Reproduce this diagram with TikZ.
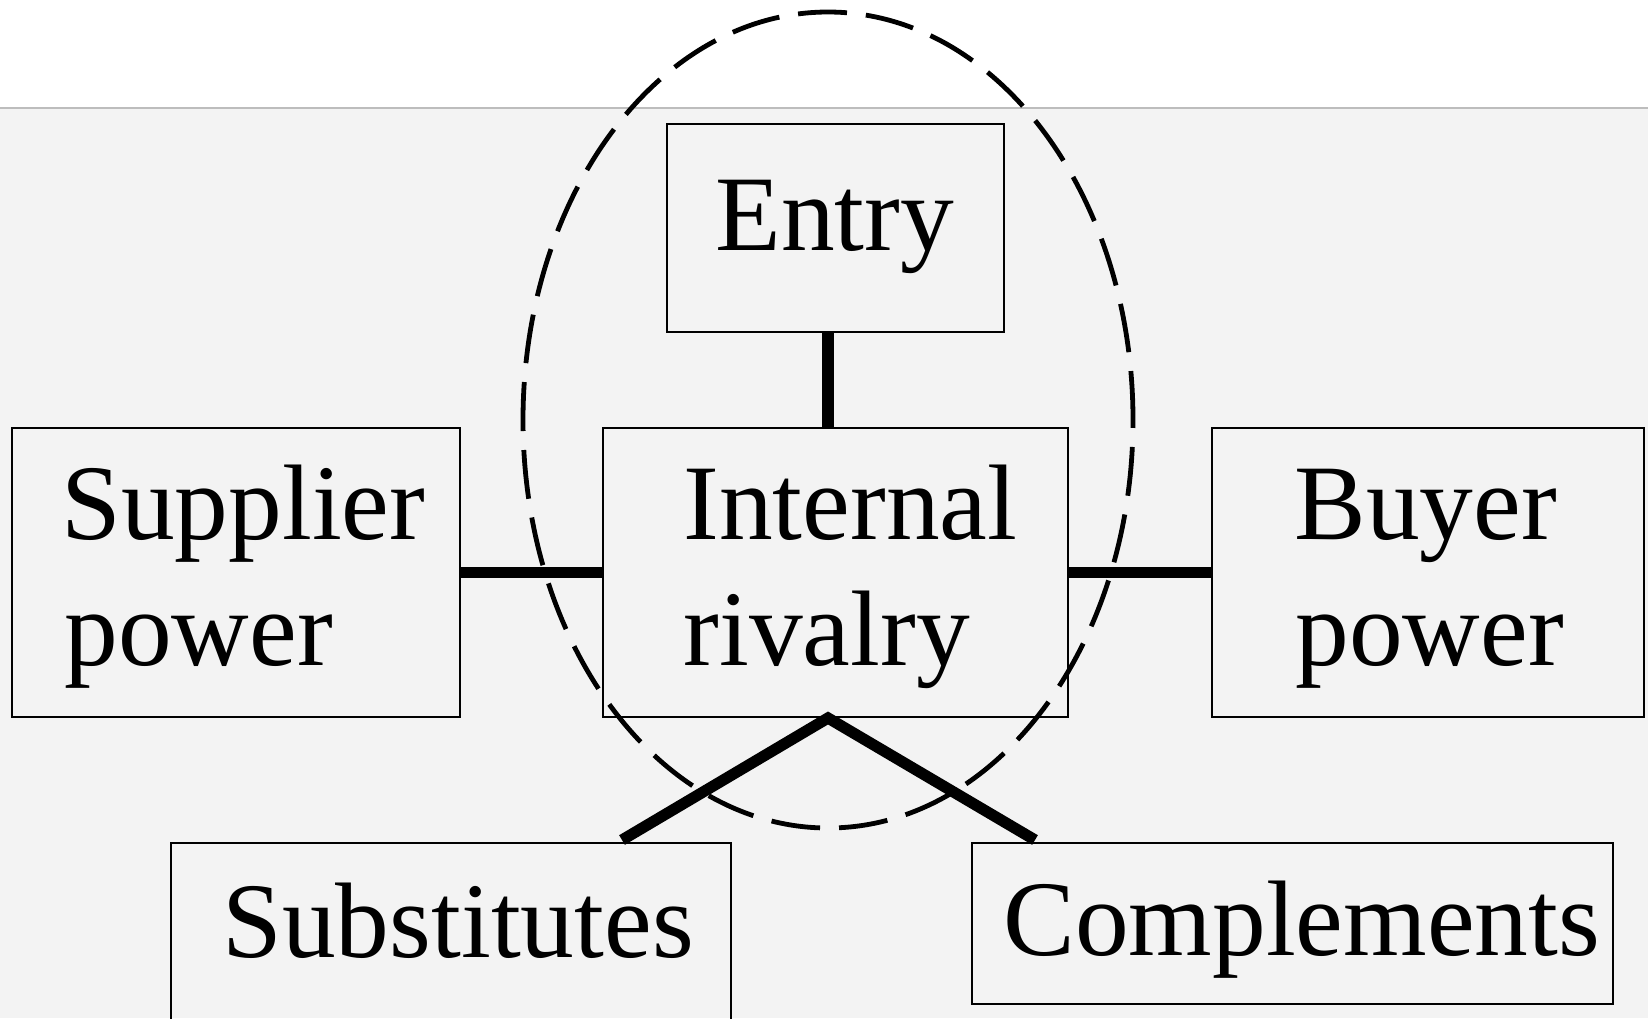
\documentclass[tikz,border=0pt]{standalone}
\usepackage{fontspec}
\setmainfont{Liberation Serif}
\usetikzlibrary{shapes.geometric}
\definecolor{bgc}{HTML}{F3F3F3}
\definecolor{rulec}{HTML}{BDBDBD}
\begin{document}
\begin{tikzpicture}[x=0.5pt,y=-0.5pt,
  box/.style={draw=black,line width=1pt,rectangle,inner sep=0pt},
  lbl/.style={anchor=base west,inner sep=0pt,font=\fontsize{53.7pt}{64pt}\selectfont},
  conn/.style={line width=5.6pt},
  vconn/.style={line width=5.6pt},
  oval/.style={ellipse,draw=black,line width=2.4pt,dash pattern=on 24.5pt off 9.5pt,inner sep=0pt}]
\useasboundingbox (0,0) rectangle (1648,1018);
\clip (0,0) rectangle (1648,1018);
\fill[white] (0,0) rectangle (1648,1018);
\fill[bgc] (0,108) rectangle (1648,1018);
\draw[rulec,line width=1pt] (0,108) -- (1648,108);
% dashed ellipse
\node[oval,minimum width=305pt,minimum height=408pt] (scope) at (828,420) {};
% boxes
\node[box,minimum width=168.5pt,minimum height=104pt] (entry) at (835.5,228) {};
\node[box,minimum width=232.5pt,minimum height=144.5pt] (internal) at (835.5,572.5) {};
\node[box,minimum width=224pt,minimum height=144.5pt] (supplier) at (236,572.5) {};
\node[box,minimum width=216pt,minimum height=144.5pt] (buyer) at (1428,572.5) {};
\node[box,minimum width=280pt,minimum height=93.5pt] (subst) at (451,936.5) {};
\node[box,minimum width=320.5pt,minimum height=80.5pt] (compl) at (1292.5,923.5) {};
% labels
\node[lbl] (tentry) at (715,250) {Entry};
\node[lbl] (tint1) at (683,539) {Internal};
\node[lbl] (tint2) at (683,665) {rivalry};
\node[lbl] (tsup1) at (61,539) {Supplier};
\node[lbl] (tsup2) at (64,665) {power};
\node[lbl] (tbuy1) at (1294,539) {Buyer};
\node[lbl] (tbuy2) at (1295,665) {power};
\node[lbl] (tsubst) at (222,957) {Substitutes};
\node[lbl] (tcompl) at (1003,955) {Complements};
% connectors
\draw[conn] ([xshift=-3.75pt]entry.south) -- ([xshift=-3.75pt]internal.north);
\draw[conn] (supplier.east) -- (internal.west);
\draw[conn] (internal.east) -- (buyer.west);
\coordinate (apex) at ([xshift=-3.75pt]internal.south);
\coordinate (sEnd) at ([xshift=85.5pt,yshift=1pt]subst.north);
\coordinate (cEnd) at ([xshift=-128.75pt,yshift=1pt]compl.north);
\draw[vconn] (sEnd) -- (apex) -- (cEnd);
\end{tikzpicture}
\end{document}
